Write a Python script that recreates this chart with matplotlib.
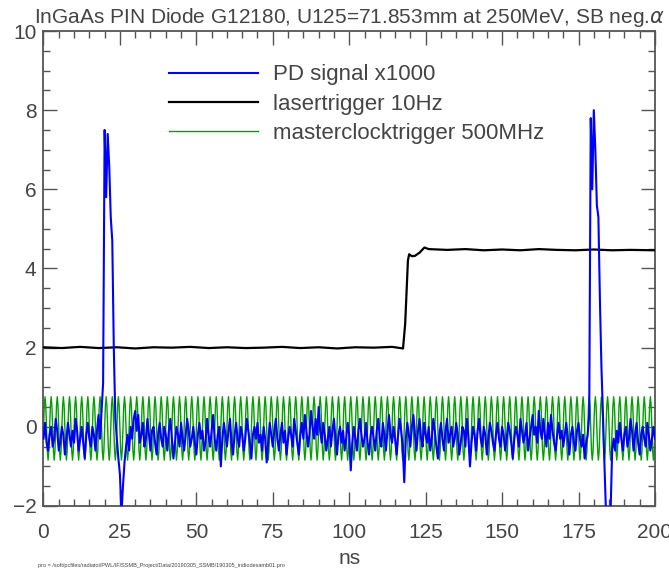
import numpy as np
import matplotlib
matplotlib.use("Agg")
import matplotlib.pyplot as plt
from matplotlib.ticker import MultipleLocator

PD_STEP = 0.5
pd_signal = [
    -0.3, 0.1, -0.4, -0.6, -0.2, 0.0, -0.5, -0.3, 0.2, -0.1, -0.6, -0.4, 0.0, -0.2, -0.7, -0.3, 0.1, -0.2, -0.5, -0.1,
    -0.4, 0.2, -0.1, -0.6, -0.3, 0.0, -0.4, -0.8, -0.2, 0.1, -0.3, -0.5, 0.0, -0.2, -0.6, -0.1, 0.3, -0.3, 0.4, 1.1,
    7.5, 5.8, 7.4, 6.6, 5.3, 4.7, 2.0, 0.2, -0.3, -0.8, -1.2, -2.2, -1.5, -0.9, -0.5, -0.2, -0.6, 0.0, -0.3, 0.2,
    0.4, -0.1, 0.3, -0.4, -0.2, 0.1, -0.5, -0.3, 0.2, -0.2, -0.6, -0.1, 0.0, -0.4, -0.7, -0.2, 0.1, -0.3, -0.5, 0.0,
    -0.2, -0.6, -0.1, 0.2, -0.3, -0.8, -0.4, 0.0, -0.2, -0.5, 0.1, -0.3, -0.6, -0.2, 0.2, -0.1, -0.5, -0.3, 0.0, -0.4,
    -0.7, -0.2, 0.1, -0.3, -0.1, -0.6, -0.4, 0.2, -0.2, -0.5, -0.1, 0.3, -0.3, -0.6, -0.2, 0.0, -1.0, -0.3, 0.1, -0.2,
    -0.5, -0.1, 0.2, -0.4, -0.7, -0.2, 0.1, -0.3, -0.5, 0.0, -0.2, -0.6, -0.3, 0.2, -0.1, -0.4, -0.8, -0.2, 0.0, -0.3,
    0.1, -0.4, -0.2, -0.6, 0.0, -0.3, -0.9, -0.4, 0.1, -0.2, -0.5, -0.1, 0.2, -0.3, -0.6, -0.2, 0.1, -0.4, -0.1, -0.7,
    -0.3, 0.0, -0.2, -0.5, 0.2, -0.1, -0.4, -0.7, -0.2, 0.1, -0.3, 0.3, -0.1, -0.5, -0.2, 0.4, 0.0, -0.3, 0.2, -0.2,
    0.5, -0.1, -0.4, 0.1, -0.2, -0.6, -0.3, 0.0, -0.5, -0.1, 0.2, -0.3, -0.7, -0.2, 0.0, -0.4, -0.1, -0.6, -0.3, 0.1,
    -0.2, -1.1, -0.4, 0.0, -0.3, -0.6, -0.1, 0.2, -0.2, -0.5, -0.3, 0.1, -0.4, -0.7, -0.2, 0.0, -0.3, -0.6, -0.1, 0.2,
    -0.3, -0.5, 0.1, -0.2, -0.6, -0.1, 0.3, -0.2, -0.4, 0.0, -0.3, -0.7, -0.2, 0.2, -0.1, -0.5, -1.4, -0.3, 0.1, -0.2,
    -0.5, 0.0, 0.3, -0.2, -0.6, -0.1, 0.2, -0.3, -0.5, 0.1, -0.2, -0.4, 0.0, -0.6, -0.3, 0.2, -0.1, -0.5, -0.8, -0.2,
    0.1, -0.3, -0.6, -0.1, 0.2, -0.4, -0.2, 0.0, -0.5, -0.3, 0.1, -0.2, -0.7, -0.4, 0.0, -0.1, -0.5, 0.2, -0.3, -1.0,
    -0.4, 0.0, -0.2, -0.6, -0.1, 0.2, -0.3, -0.5, 0.0, -0.2, -0.7, -0.3, 0.1, -0.1, -0.4, -0.6, -0.2, 0.1, -0.3, -0.5,
    0.0, -0.2, -0.6, -0.3, 0.1, -0.1, -0.4, -0.8, -0.3, 0.0, -0.2, -0.5, 0.2, -0.1, -0.4, -0.2, 0.1, -0.6, -0.3, 0.0,
    0.3, -0.2, 0.0, -0.4, 0.4, -0.1, -0.3, 0.2, -0.2, -0.5, 0.1, -0.3, 0.3, -0.1, -0.4, -0.6, -0.2, 0.1, -0.3, -0.1,
    -0.5, -0.2, 0.1, -0.3, -0.7, -0.2, 0.0, -0.4, -0.6, -0.1, 0.1, -0.3, -0.5, -0.2, -0.8, -0.4, -0.2, 0.3, 7.8, 6.0,
    8.0, 7.0, 5.6, 5.3, 3.2, 1.5, 0.3, -1.0, -2.2, -2.4, -2.3, -2.1, -0.6, -0.3, -0.6, -0.1, -0.4, 0.1, -0.3, -0.6,
    -0.2, 0.0, -0.5, -0.3, 0.2, -0.1, -0.6, -0.2, 0.1, -0.4, -0.7, -0.2, 0.0, -0.3, -0.5, 0.1, -0.2, -0.6, -0.3, 0.0,
    -0.3,
]

# laser trigger 10 Hz: flat low level, edge near 119 ns, flat high level
laser_t = [0, 6, 12, 18, 24, 30, 36, 42, 48, 54, 60, 66, 72, 78, 84, 90, 96, 102, 108, 114, 117.6,
           118.3, 119.2, 119.6, 120.5, 121.5, 123.0, 124.6, 126, 132, 138, 144, 150, 156, 162, 168,
           174, 180, 186, 192, 200]
laser_v = [2.01, 1.99, 2.02, 1.99, 2.01, 1.98, 2.01, 2.0, 2.02, 1.99, 2.01, 1.99, 2.0, 2.02, 1.99, 2.01,
           1.98, 2.01, 2.0, 2.02, 1.98,
           2.6, 4.2, 4.36, 4.31, 4.32, 4.4, 4.53, 4.49, 4.47, 4.49, 4.46, 4.48, 4.46, 4.49, 4.47,
           4.46, 4.48, 4.46, 4.47, 4.46]

# master clock trigger 500 MHz: one 2 ns cycle sampled every 0.25 ns, repeated
CLOCK_STEP = 0.25
clock_cycle = [-0.04, 0.53, 0.76, 0.53, -0.04, -0.61, -0.84, -0.61]
n_cycles = 100

title = r"InGaAs PIN Diode G12180, U125=71.853mm at 250MeV, SB neg.$\alpha$"
labels = ["PD signal x1000", "lasertrigger 10Hz", "masterclocktrigger 500MHz"]
footer = "pro = /soft/pcfiles/radiatoi/PWL/IF/SSMB_Project/Data/20190305_SSMB/190305_indiodesamb01.pro"

pd_t = np.arange(len(pd_signal)) * PD_STEP
clock_v = np.array(clock_cycle * n_cycles + clock_cycle[:1])
clock_t = np.arange(len(clock_v)) * CLOCK_STEP

plt.rcParams["font.family"] = ["Liberation Sans", "DejaVu Sans"]
plt.rcParams["mathtext.fontset"] = "dejavusans"
TEXT = "#444444"

fig = plt.figure(figsize=(6.69, 5.72), dpi=100)
ax = fig.add_axes([0.065, 0.1154, 0.914, 0.8304])

ax.plot(clock_t, clock_v, color="#00a000", lw=1.0, label=labels[2], zorder=2)
ax.plot(laser_t, laser_v, color="black", lw=1.6, label=labels[1], zorder=3)
ax.plot(pd_t, pd_signal, color="#0000ff", lw=1.5, label=labels[0], zorder=4)

ax.set_xlim(0, 200)
ax.set_ylim(-2, 10)
ax.xaxis.set_major_locator(MultipleLocator(25))
ax.xaxis.set_minor_locator(MultipleLocator(5))
ax.yaxis.set_major_locator(MultipleLocator(2))
ax.yaxis.set_minor_locator(MultipleLocator(0.5))
ax.tick_params(which="both", direction="in", top=True, right=True, color="#555555", width=1.0)
ax.tick_params(which="major", length=10, labelsize=15, labelcolor=TEXT)
ax.tick_params(axis="x", which="major", pad=12)
ax.tick_params(axis="y", which="major", pad=5)
ax.tick_params(which="minor", length=5)
for sp in ax.spines.values():
    sp.set_color("#555555")
    sp.set_linewidth(1.3)

ax.set_xlabel("ns", fontsize=15, labelpad=5, color=TEXT)
ax.set_title(title, fontsize=15, pad=6, color=TEXT)

handles, labs = ax.get_legend_handles_labels()
order = [2, 1, 0]
leg = ax.legend([handles[i] for i in order], [labs[i] for i in order],
                loc="upper left", bbox_to_anchor=(0.172, 0.972), frameon=False,
                fontsize=16, handlelength=4.0, handletextpad=0.7, labelspacing=0.38)
for t in leg.get_texts():
    t.set_color(TEXT)

fig.text(0.057, 0.012, footer, fontsize=4, ha="left", va="center", color=TEXT)

fig.savefig("out.png", dpi=100)
